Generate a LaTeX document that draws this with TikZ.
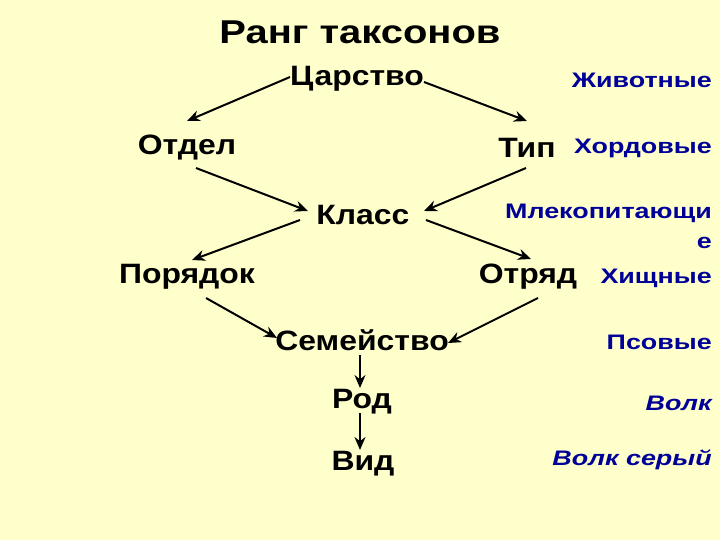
\documentclass[tikz,border=0pt]{standalone}
\usepackage{fontspec}
\setmainfont{Liberation Sans}
\newfontfamily\titlefont[FakeStretch=1.21]{Liberation Sans}
\newfontfamily\rankfont[FakeStretch=1.14]{Liberation Sans}
\newfontfamily\labfont[FakeStretch=1.28]{Liberation Sans}
\usetikzlibrary{arrows.meta,calc}
\definecolor{bg}{HTML}{FFFFCC}
\definecolor{lblue}{HTML}{000099}
\begin{document}
\begin{tikzpicture}[x=1pt,y=-1pt,
  rank/.style={font=\rankfont\fontsize{28}{28}\selectfont\bfseries, inner sep=0pt, text=black},
  lab/.style={font=\labfont\fontsize{21}{21}\selectfont\bfseries, inner sep=0pt, text=lblue, anchor=east},
  labit/.style={lab, font=\labfont\fontsize{21}{21}\selectfont\bfseries\itshape},
  arr/.style={line width=2pt, -{Stealth[length=13pt,width=11pt]}}]
\fill[bg] (0,0) rectangle (720,540);
\useasboundingbox (0,0) rectangle (720,540);
\node[font=\titlefont\fontsize{33}{33}\selectfont\bfseries, inner sep=0pt] (title) at (360,32) {Ранг таксонов};
\node[rank] (tsar) at (357,79) {Царство};
\node[rank] (otdel) at (187,148) {Отдел};
\node[rank] (tip) at (527,148) {Тип};
\node[rank] (klass) at (363,215) {Класс};
\node[rank] (por) at (187,277) {Порядок};
\node[rank] (otr) at (528,277) {Отряд};
\node[rank] (sem) at (362,340) {Семейство};
\node[rank] (rod) at (362,402) {Род};
\node[rank] (vid) at (363,464) {Вид};
\node[lab] (l1) at (712,80) {Животные};
\node[lab] (l2) at (712,148) {Хордовые};
\node[lab] (l3) at (712,213) {Млекопитающи};
\node[lab] (l3b) at (712,243) {е};
\node[lab] (l4) at (712,278) {Хищные};
\node[lab] (l5) at (712,342) {Псовые};
\node[labit] (l6) at (712,403) {Волк};
\node[labit] (l7) at (712,460) {Волк серый};
\draw[arr] ($(tsar)+(-67,-2)$) -- ($(otdel)+(0,-27)$);
\draw[arr] ($(tsar)+(67,3)$) -- ($(tip)+(0,-27)$);
\draw[arr] ($(otdel)+(9,20)$) -- ($(klass)+(-55,-4)$);
\draw[arr] ($(tip)+(-1,20)$) -- ($(klass)+(61,-4)$);
\draw[arr] ($(klass)+(-63,5)$) -- ($(por)+(5,-17)$);
\draw[arr] ($(klass)+(63,5)$) -- ($(otr)+(3,-18)$);
\draw[arr] ($(por)+(19,21)$) -- ($(sem)+(-85,-2)$);
\draw[arr] ($(otr)+(10,21)$) -- ($(sem)+(86,3)$);
\draw[arr] ($(sem)+(-2,15)$) -- ($(rod)+(-2,-14)$);
\draw[arr] ($(rod)+(-2,11)$) -- ($(vid)+(-3,-14)$);
\end{tikzpicture}
\end{document}
